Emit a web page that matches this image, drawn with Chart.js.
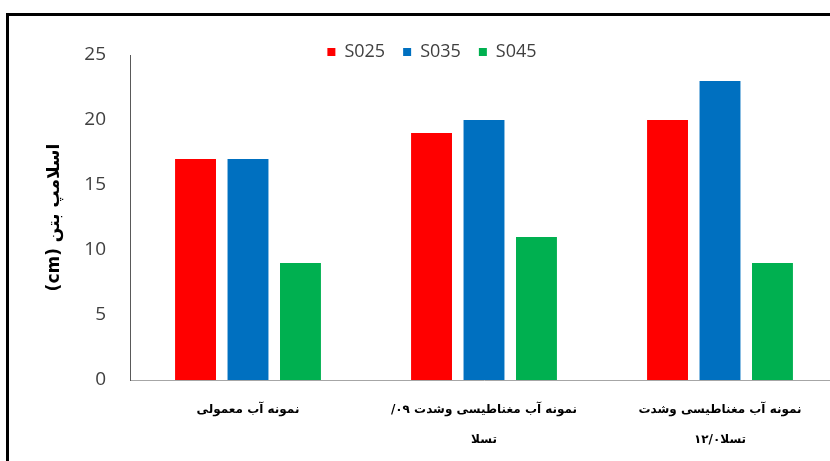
<!DOCTYPE html>
<html>
<head>
<meta charset="utf-8">
<script src="https://cdn.jsdelivr.net/npm/chart.js@4.4.1/dist/chart.umd.min.js"></script>
<style>
    html, body { margin: 0; padding: 0; background: #fff; overflow: hidden; }
    #contenedor { width: 850px; height: 461px; position: relative; }
</style>
</head>
<body>
<div id="contenedor">
    <canvas id="grafico" dir="rtl"></canvas>
</div>
<script>
// Datos
const categorias = [
    ['نمونه آب معمولی'],
    ['نمونه آب مغناطیسی وشدت ۰۹/', 'تسلا'],
    ['نمونه آب مغناطیسی وشدت', 'تسلا۱۲/۰']
];
const series = ['S025', 'S035', 'S045'];
const valoresS025 = [17, 19, 20];
const valoresS035 = [17, 20, 23];
const valoresS045 = [9, 11, 9];
const colores = ['#FF0000', '#0070C0', '#00B050'];
const tituloY = 'اسلامپ بتن (cm)';

// Marco negro alrededor del gráfico
// (además agranda la zona de recorte de la leyenda, que baja un poco sobre el área del gráfico)
const pluginMarco = {
    id: 'marco',
    beforeDraw: (chart) => {
        const ctx = chart.ctx;
        ctx.save();
        ctx.fillStyle = '#ffffff';
        ctx.fillRect(0, 0, chart.width, chart.height);
        ctx.strokeStyle = '#000000';
        ctx.lineWidth = 3;
        ctx.strokeRect(7.5, 14.5, chart.width + 20, chart.height + 20);
        ctx.restore();
        if (chart.legend) {
            chart.legend.bottom = chart.legend.top + 45;
        }
    }
};

const ctx = document.getElementById('grafico').getContext('2d');
new Chart(ctx, {
    type: 'bar',
    data: {
        labels: categorias,
        datasets: [
            { label: series[0], data: valoresS025, backgroundColor: colores[0] },
            { label: series[1], data: valoresS035, backgroundColor: colores[1] },
            { label: series[2], data: valoresS045, backgroundColor: colores[2] }
        ]
    },
    options: {
        responsive: true,
        maintainAspectRatio: false,
        animation: false,
        layout: { padding: { left: 26, right: 12, top: 25, bottom: 0 } },
        datasets: {
            bar: { categoryPercentage: 0.667, barPercentage: 0.78 }
        },
        plugins: {
            tooltip: { enabled: false },
            legend: {
                position: 'top',
                maxHeight: 30,
                labels: {
                    boxWidth: 8,
                    boxHeight: 8,
                    padding: 18,
                    color: '#404040',
                    font: { family: 'Open Sans', size: 18 }
                }
            }
        },
        scales: {
            x: {
                grid: { display: false },
                border: { display: true, color: '#a6a6a6', width: 1 },
                ticks: {
                    color: '#000000',
                    padding: 7,
                    maxRotation: 0,
                    autoSkip: false,
                    font: { family: 'DejaVu Sans', weight: 'bold', size: 12, lineHeight: '30px' }
                },
                afterFit: (scale) => { scale.height = 81; }
            },
            y: {
                min: 0,
                max: 25,
                grid: { display: false },
                border: { display: true, color: '#595959', width: 1 },
                ticks: {
                    stepSize: 5,
                    padding: 16,
                    color: '#404040',
                    font: { family: 'Open Sans', size: 19 }
                },
                title: {
                    display: true,
                    text: tituloY,
                    color: '#000000',
                    padding: { top: 18, bottom: 0 },
                    font: { family: 'DejaVu Sans', weight: 'bold', size: 17 }
                },
                afterFit: (scale) => { scale.width = 104; }
            }
        }
    },
    plugins: [pluginMarco]
});
</script>
</body>
</html>
